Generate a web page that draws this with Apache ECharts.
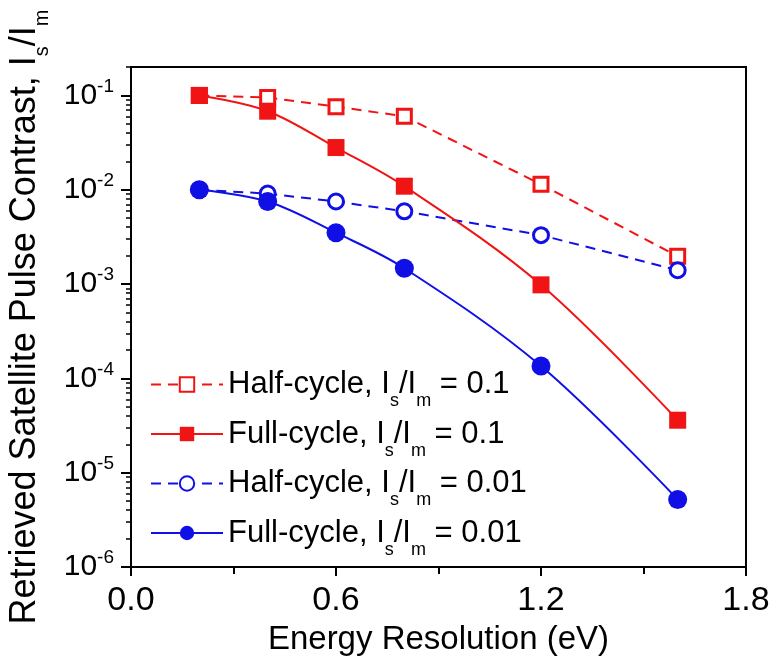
<!DOCTYPE html>
<html><head><meta charset="utf-8">
<script src="https://cdn.jsdelivr.net/npm/echarts@6/dist/echarts.min.js"></script>
<style>html,body{margin:0;padding:0;background:#fff}#c{width:771px;height:659px}</style>
</head><body><div id="c"></div>
<script>
const energy = [0.2, 0.4, 0.6, 0.8, 1.2, 1.6];
const halfCycle01 = [0.1, 0.095, 0.076, 0.06, 0.0114, 0.00197];
const fullCycle01 = [0.1, 0.068, 0.028, 0.0109, 0.00098, 3.6e-5];
const halfCycle001 = [0.01, 0.0091, 0.0075, 0.0059, 0.0033, 0.0014];
const fullCycle001 = [0.01, 0.0075, 0.0035, 0.00147, 1.35e-4, 5.2e-6];
const legendNames = ['Half-cycle, Is/Im = 0.1', 'Full-cycle, Is/Im = 0.1', 'Half-cycle, Is/Im = 0.01', 'Full-cycle, Is/Im = 0.01'];
const yMinorTicks = [];
for (let e = -6; e <= -1; e++) for (let m = 2; m <= 9; m++) { const v = m * Math.pow(10, e); if (v <= 0.2) yMinorTicks.push(v); }

const RED = '#f01414', BLUE = '#1010e6';
const FONT = 'Liberation Sans';
const pairs = a => energy.map((x, i) => [x, a[i]]);
const chart = echarts.init(document.getElementById('c'));
chart.setOption({
  animation: false,
  grid: { left: 131, right: 25, top: 67, bottom: 92, containLabel: false, outerBoundsMode: 'none',
    show: true, borderColor: '#000', borderWidth: 2, backgroundColor: 'transparent' },
  legend: {
    orient: 'vertical', left: 145, top: 364, itemWidth: 72, itemHeight: 18, itemGap: 8,
    textStyle: { fontSize: 31, fontFamily: FONT, color: '#000',
      rich: { s: { fontSize: 18, fontFamily: FONT, color: '#000', padding: [34, 0, 0, 0] } } },
    formatter: n => n.replace('Is/Im', 'I{s|s}/I{s|m}'),
    data: legendNames
  },
  xAxis: {
    type: 'value', min: 0, max: 1.8, interval: 0.6,
    name: 'Energy Resolution (eV)', nameLocation: 'middle', nameGap: 56,
    nameTextStyle: { fontSize: 33, fontFamily: FONT, color: '#000' },
    axisLine: { lineStyle: { color: '#000', width: 2 } },
    axisTick: { show: true, inside: false, length: 9, lineStyle: { width: 2, color: '#000' } },
    minorTick: { show: true, splitNumber: 2, length: 7, lineStyle: { width: 2, color: '#000' } },
    splitLine: { show: false },
    axisLabel: { fontSize: 34, fontFamily: FONT, color: '#000', margin: 17, formatter: v => v.toFixed(1) }
  },
  yAxis: [{
    type: 'log', logBase: 10, min: 1e-6, max: 0.2,
    name: 'Retrieved Satellite Pulse Contrast, I{s|s}/I{s|m}', nameLocation: 'middle', nameGap: 76, nameRotate: 90,
    nameTextStyle: { fontSize: 36, fontFamily: FONT, color: '#000',
      rich: { s: { fontSize: 20, fontFamily: FONT, color: '#000', padding: [36, 0, 0, 0] } } },
    axisLine: { lineStyle: { color: '#000', width: 2 } },
    axisTick: { show: true, length: 10, lineStyle: { width: 2, color: '#000' } },
    splitLine: { show: false },
    axisLabel: {
      fontSize: 30, fontFamily: FONT, color: '#000', margin: 17, showMaxLabel: false,
      formatter: v => { const e = Math.round(Math.log10(v)); return '10{p|' + e + '}'; },
      rich: { p: { fontSize: 19, fontFamily: FONT, color: '#000', padding: [0, 0, 18, 0] } }
    }
  }, {
    type: 'log', logBase: 10, min: 1e-6, max: 0.2, position: 'left',
    axisLine: { show: false }, splitLine: { show: false }, axisLabel: { show: false },
    axisTick: { show: true, length: 5, customValues: yMinorTicks, lineStyle: { width: 1.5, color: '#000' } }
  }],
  series: [
    { name: legendNames[0], type: 'line', data: pairs(halfCycle01), symbol: 'rect', symbolSize: 14,
      lineStyle: { color: RED, width: 2, type: [10, 7] }, itemStyle: { color: '#fff', borderColor: RED, borderWidth: 3 }, z: 3 },
    { name: legendNames[1], type: 'line', data: pairs(fullCycle01), symbol: 'rect', symbolSize: 17, smooth: 0.35,
      lineStyle: { color: RED, width: 2 }, itemStyle: { color: RED, borderColor: RED, borderWidth: 0 }, z: 4 },
    { name: legendNames[2], type: 'line', data: pairs(halfCycle001), symbol: 'circle', symbolSize: 15,
      lineStyle: { color: BLUE, width: 2, type: [10, 7] }, itemStyle: { color: '#fff', borderColor: BLUE, borderWidth: 3 }, z: 3 },
    { name: legendNames[3], type: 'line', data: pairs(fullCycle001), symbol: 'circle', symbolSize: 19, smooth: 0.35,
      lineStyle: { color: BLUE, width: 2 }, itemStyle: { color: BLUE, borderColor: BLUE, borderWidth: 0 }, z: 4 }
  ]
});
</script></body></html>
